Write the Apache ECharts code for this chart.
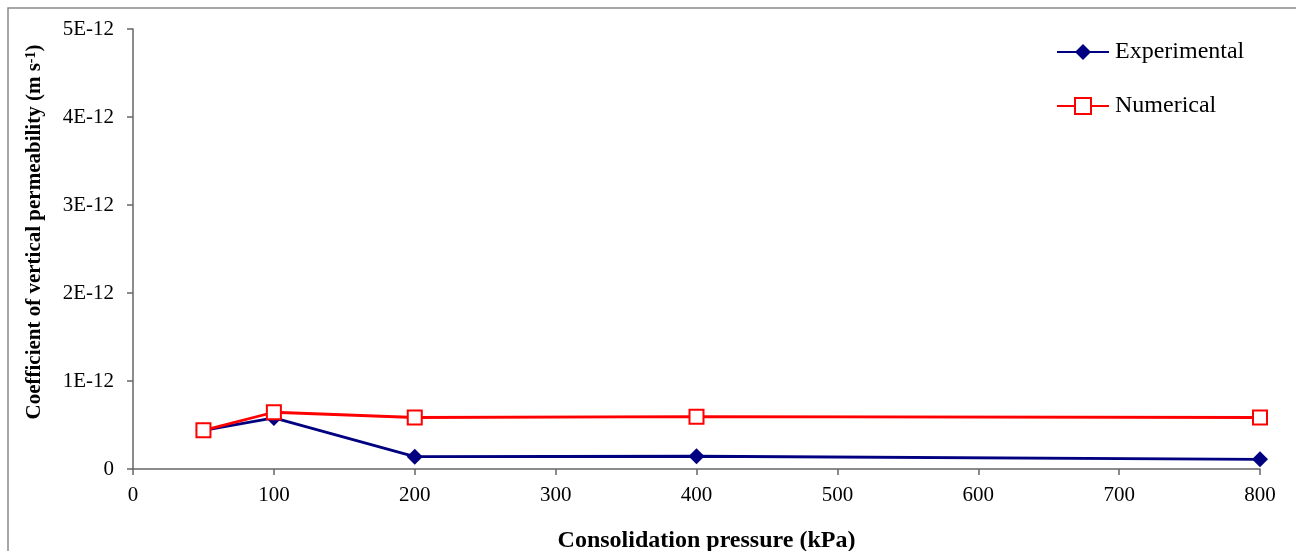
<!DOCTYPE html>
<html>
<head>
<meta charset="utf-8">
<script src="https://cdn.jsdelivr.net/npm/echarts@6/dist/echarts.min.js"></script>
<style>html,body{margin:0;padding:0;background:#fff;}#c{width:1296px;height:551px;}</style>
</head>
<body>
<div id="c"></div>
<script>
const pressures = [50, 100, 200, 400, 800];
const experimental = [0.44e-12, 0.58e-12, 0.14e-12, 0.145e-12, 0.11e-12];
const numerical = [0.44e-12, 0.645e-12, 0.585e-12, 0.595e-12, 0.585e-12];
const yTickLabels = ['0', '1E-12', '2E-12', '3E-12', '4E-12', '5E-12'];

const font = '"Liberation Serif", "Times New Roman", serif';
const chart = echarts.init(document.getElementById('c'));
chart.setOption({
  animation: false,
  backgroundColor: '#fff',
  textStyle: { fontFamily: font },
  graphic: [{
    type: 'rect',
    shape: { x: 8, y: 8, width: 1400, height: 700 },
    style: { fill: 'none', stroke: '#8a8a8a', lineWidth: 1.5 },
    silent: true
  }],
  grid: { left: 133, right: 36, top: 29, bottom: 82, containLabel: false, outerBoundsMode: 'none' },
  legend: {
    orient: 'vertical', left: 1056, top: 40, padding: 0,
    itemWidth: 52, itemHeight: 20, itemGap: 30,
    textStyle: { fontFamily: font, fontSize: 24, color: '#000', padding: [0, 0, 0, 1] },
    data: ['Experimental', 'Numerical']
  },
  xAxis: {
    type: 'value', min: 0, max: 800, interval: 100,
    name: 'Consolidation pressure (kPa)', nameLocation: 'middle', nameGap: 60,
    nameTextStyle: { fontFamily: font, fontSize: 24, fontWeight: 'bold', color: '#000', padding: [0, 0, 0, 20] },
    axisLine: { show: true, lineStyle: { color: '#666', width: 1.5 } },
    axisTick: { show: true, inside: false, length: 6, lineStyle: { color: '#666', width: 1.5 } },
    axisLabel: { fontFamily: font, fontSize: 21, color: '#000', margin: 16 },
    splitLine: { show: false }
  },
  yAxis: {
    type: 'value', min: 0, max: 5e-12, interval: 1e-12,
    name: 'Coefficient of vertical permeability (m s{sup|-1})', nameLocation: 'middle', nameGap: 87,
    nameTextStyle: { fontFamily: font, fontSize: 21, fontWeight: 'bold', color: '#000', padding: [0, 0, 0, 34],
      rich: { sup: { fontFamily: font, fontSize: 14, fontWeight: 'bold', color: '#000', verticalAlign: 'top', padding: [0, 0, 8, 0] } } },
    axisLine: { show: true, lineStyle: { color: '#666', width: 1.5 } },
    axisTick: { show: true, inside: false, length: 6, lineStyle: { color: '#666', width: 1.5 } },
    axisLabel: {
      fontFamily: font, fontSize: 21, color: '#000', margin: 19,
      formatter: v => yTickLabels[Math.round(v * 1e12)]
    },
    splitLine: { show: false }
  },
  series: [
    {
      name: 'Experimental', type: 'line',
      data: pressures.map((p, i) => [p, experimental[i]]),
      symbol: 'diamond', symbolSize: 16,
      lineStyle: { color: '#000080', width: 2.8 },
      itemStyle: { color: '#000080', borderColor: '#000080', borderWidth: 0 },
      z: 2
    },
    {
      name: 'Numerical', type: 'line',
      data: pressures.map((p, i) => [p, numerical[i]]),
      symbol: 'rect', symbolSize: 14, showAllSymbol: true,
      lineStyle: { color: '#ff0000', width: 2.8 },
      itemStyle: { color: '#ffffff', borderColor: '#ff0000', borderWidth: 2 },
      z: 3
    }
  ]
});
</script>
</body>
</html>
